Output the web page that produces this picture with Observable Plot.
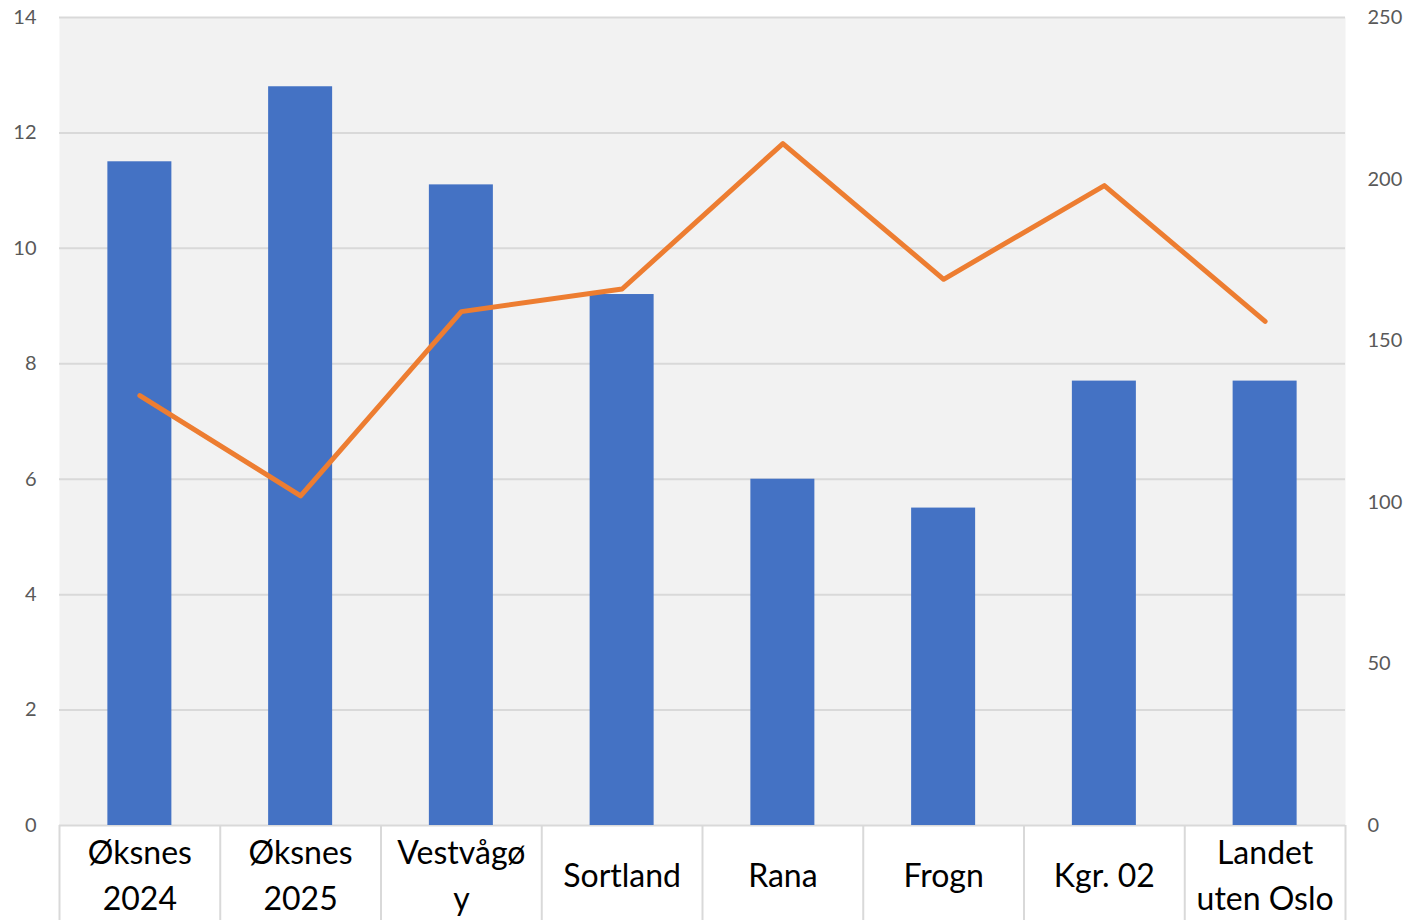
<!DOCTYPE html>
<html>
<head>
<meta charset="utf-8">
<script src="https://cdn.jsdelivr.net/npm/d3@7"></script>
<script src="https://cdn.jsdelivr.net/npm/@observablehq/plot@0.6"></script>
<style>
  html, body { margin: 0; padding: 0; background: #ffffff; }
  #chart svg { display: block; }
</style>
</head>
<body>
<div id="chart"></div>
<script>
const categories = ["Øksnes 2024", "Øksnes 2025", "Vestvågøy", "Sortland", "Rana", "Frogn", "Kgr. 02", "Landet uten Oslo"];
const tickLabels = ["Øksnes\n2024", "Øksnes\n2025", "Vestvågø\ny", "Sortland", "Rana", "Frogn", "Kgr. 02", "Landet\nuten Oslo"];
const barValues = [11.5, 12.8, 11.1, 9.2, 6.0, 5.5, 7.7, 7.7];
const lineValues = [133, 102, 159, 166, 211, 169, 198, 156];
const leftTicks = [0, 2, 4, 6, 8, 10, 12, 14];
const rightTicks = [0, 50, 100, 150, 200, 250];

const leftMax = 14, rightMax = 250;
const toLeft = v => v * leftMax / rightMax;

const data = categories.map((c, i) => ({cat: c, label: tickLabels[i], bar: barValues[i], line: lineValues[i]}));

const W = 1406, H = 920;
const mL = 59, mR = 61, mT = 17, mB = 95;
const bw = (W - mL - mR) / categories.length;
const barInset = (bw - 64) / 2;

const chart = Plot.plot({
  width: W,
  height: H,
  marginLeft: mL,
  marginRight: mR,
  marginTop: mT,
  marginBottom: mB,
  style: {fontFamily: "Lato, 'Open Sans', sans-serif", background: "#ffffff", overflow: "visible"},
  x: {domain: categories, padding: 0, round: false, axis: null},
  y: {domain: [0, leftMax], axis: null},
  marks: [
    Plot.frame({fill: "#f2f2f2", stroke: null}),
    Plot.ruleY(leftTicks.filter(d => d > 0), {stroke: "#d9d9d9", strokeWidth: 2}),
    Plot.ruleY([0], {stroke: "#d9d9d9", strokeWidth: 2}),
    Plot.ruleX(data, {x: "cat", y1: () => 0, y2: () => -1.9, dx: -bw / 2, stroke: "#d9d9d9", strokeWidth: 2}),
    Plot.ruleX(data.slice(-1), {x: "cat", y1: () => 0, y2: () => -1.9, dx: bw / 2, stroke: "#d9d9d9", strokeWidth: 2}),
    Plot.barY(data, {x: "cat", y: "bar", fill: "#4472c4", insetLeft: barInset, insetRight: barInset}),
    Plot.line(data, {x: "cat", y: d => toLeft(d.line), stroke: "#ed7d31", strokeWidth: 5, strokeLinejoin: "round", strokeLinecap: "round"}),
    Plot.axisY({anchor: "left", ticks: leftTicks, tickSize: 0, tickPadding: 23, fontSize: 20, color: "#595959", label: null}),
    Plot.axisY({anchor: "right", ticks: rightTicks.map(toLeft), tickFormat: d => String(Math.round(d * rightMax / leftMax)), tickSize: 0, tickPadding: 22, fontSize: 20, color: "#595959", label: null}),
    Plot.text(data, {x: "cat", text: "label", frameAnchor: "bottom", dy: 47, lineAnchor: "middle", lineHeight: 1.42, fontSize: 32, fill: "#000000"})
  ]
});
document.getElementById("chart").appendChild(chart);
</script>
</body>
</html>
